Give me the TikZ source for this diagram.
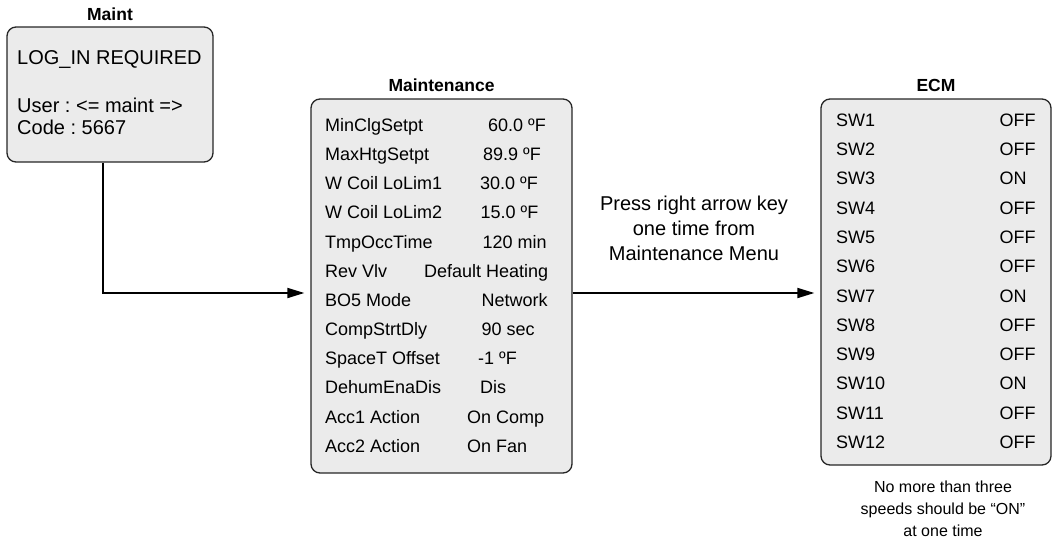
\documentclass[tikz,border=0pt]{standalone}
\usepackage{fontspec}
\setmainfont{Liberation Sans}
\usetikzlibrary{positioning,arrows.meta,calc}
\definecolor{cBox}{HTML}{EBEBEB}
\definecolor{cLine}{HTML}{262626}
\frenchspacing

\begin{document}
\begin{tikzpicture}[x=1pt,y=-1pt,
    panel/.style={draw=cLine,fill=cBox,line width=1.3pt,rounded corners=9pt,inner sep=0pt},
    ttl/.style={font=\fontsize{17.5}{20}\selectfont\bfseries,anchor=base,inner sep=0pt},
    row/.style={font=\fontsize{18}{20}\selectfont,anchor=base west,inner sep=0pt},
    big/.style={font=\fontsize{20}{22}\selectfont,anchor=base west,inner sep=0pt},
    arr/.style={-{Triangle[length=17pt,width=10pt]},line width=1.8pt,shorten >=6pt}]
  \useasboundingbox (0,0) rectangle (1052,538);
  % panels
  \node[panel,minimum width=206pt,minimum height=135pt] (mnt) at (110,94.5) {};
  \node[panel,minimum width=261pt,minimum height=374pt] (mtc) at (441.5,286) {};
  \node[panel,minimum width=230pt,minimum height=366pt] (ecm) at (936,282) {};
  \node[ttl] (mntT) at ([yshift=5.7pt]mnt.north) {Maint};
  \node[ttl] (mtcT) at ([yshift=7pt]mtc.north) {Maintenance};
  \node[ttl] (ecmT) at ([yshift=7pt]ecm.north) {ECM};
  % login screen
  \node[big] (login) at (17,64.7) {LOG\_IN REQUIRED};
  \node[big] (user) at (17,112.5) {User : <= maint =>};
  \node[big] (code) at (17,134.5) {Code : 5667};
  % maintenance menu
  \foreach \lbl/\val/\vx [count=\i from 0] in {MinClgSetpt/60.0 ºF/488, MaxHtgSetpt/89.9 ºF/483,
      W Coil LoLim1/30.0 ºF/480, W Coil LoLim2/15.0 ºF/480.5, TmpOccTime/120 min/482.5,
      Rev Vlv/Default Heating/424, BO5 Mode/Network/481.5, CompStrtDly/90 sec/481.5,
      SpaceT Offset/-1 ºF/478, DehumEnaDis/Dis/480, Acc1 Action/On Comp/467, Acc2 Action/On Fan/467}{
    \node[row] (mk\i) at (325,{131.4+29.16*\i}) {\lbl};
    \node[row] (mv\i) at (\vx,{131.4+29.16*\i}) {\val};
  }
  % ecm switches
  \foreach \st [count=\i] in {OFF,OFF,ON,OFF,OFF,OFF,ON,OFF,OFF,ON,OFF,OFF}{
    \node[row] (sk\i) at (836,{126.4+29.27*(\i-1)}) {SW\i};
    \node[row] (sv\i) at (999.3,{126.4+29.27*(\i-1)}) {\st};
  }
  \draw[arr] ([xshift=-7pt]mnt.south) |- ([yshift=-7pt]mtc.west);
  \draw[arr] ([yshift=-7pt]mtc.east) -- ([yshift=-7pt]mtc.east -| ecm.west);
  \node[font=\fontsize{20}{24.8}\selectfont,align=center,anchor=base,inner sep=0pt] (hint)
    at (694,260.1) {Press right arrow key\\one time from\\Maintenance Menu};
  \node[font=\fontsize{16}{22}\selectfont,align=center,anchor=base,inner sep=0pt] (note)
    at (943,536.5) {No more than three\\speeds should be “ON”\\at one time};
\end{tikzpicture}
\end{document}
